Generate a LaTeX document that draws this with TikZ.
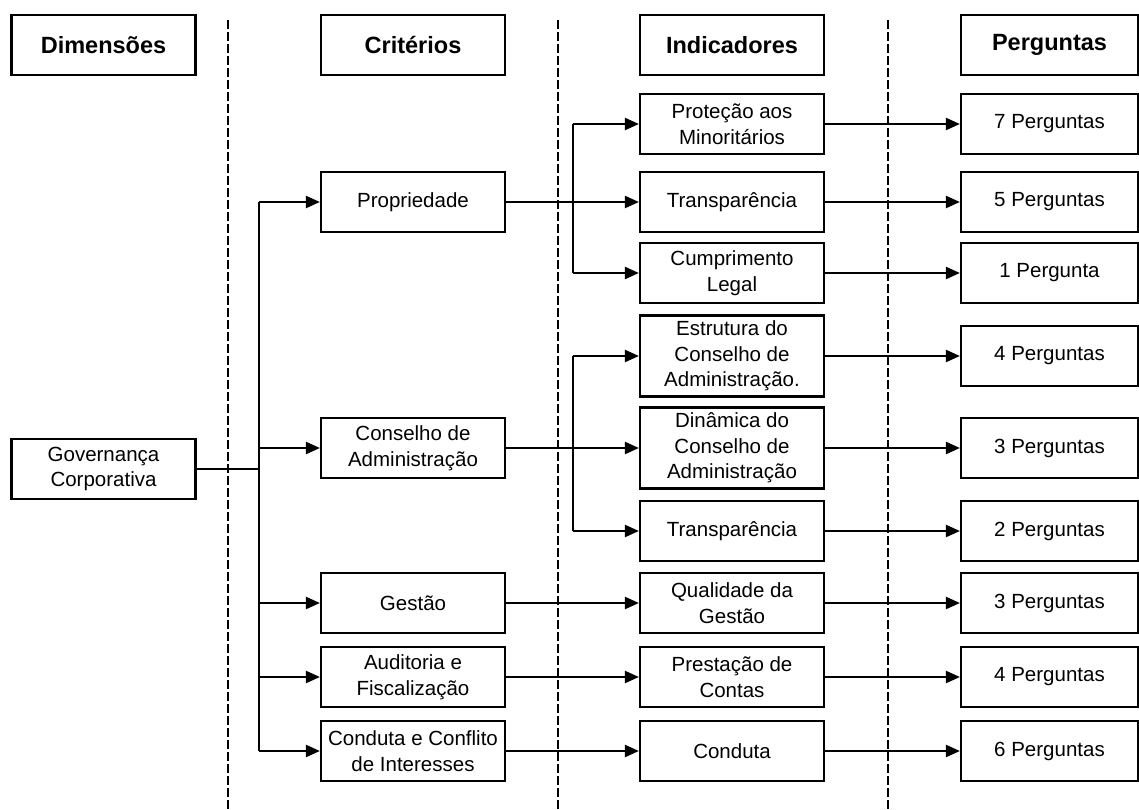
\documentclass[tikz,border=0pt]{standalone}
\usepackage{fontspec}
\setmainfont{Liberation Sans}
\usetikzlibrary{arrows.meta,calc}

\tikzset{
  caixa/.style={draw,line width=2.2pt,align=center,inner sep=0pt,
    minimum width=184pt,minimum height=60pt,font=\fontsize{20.5}{25.5}\selectfont},
  titulo/.style={caixa,font=\fontsize{23.5}{28}\selectfont\bfseries},
  alta/.style={minimum height=81pt},
  perg/.style={caixa,minimum width=177pt},
  liga/.style={line width=2.2pt},
  seta/.style={liga,-{Triangle[length=14pt,width=12pt]}},
  divisa/.style={line width=2.2pt,dash pattern=on 9pt off 3pt},
}

\begin{document}
\begin{tikzpicture}[x=1pt,y=-1pt]
\useasboundingbox (0,0) rectangle (1139,810);

% divisorias
\foreach \x in {228,558,888}
  \draw[divisa] (\x,20) -- (\x,810);

% cabecalhos
\node[titulo] (hDim) at (103.5,45) {Dimensões};
\node[titulo] (hCrit) at (413,45) {Critérios};
\node[titulo] (hInd) at (732,45) {Indicadores};
\node[titulo,minimum width=177pt] (hPerg) at (1049.5,45) {Perguntas};

% dimensao
\node[caixa] (gov) at (103.5,469) {Governança\\Corporativa};

% criterios
\node[caixa] (prop) at (413,202) {Propriedade};
\node[caixa] (cons) at (413,448) {Conselho de\\Administração};
\node[caixa] (gest) at (413,603) {Gestão};
\node[caixa] (audit) at (413,677) {Auditoria e\\Fiscalização};
\node[caixa] (cond) at (413,751) {Conduta e Conflito\\de Interesses};

% indicadores
\node[caixa] (prot) at (732,124) {Proteção aos\\Minoritários};
\node[caixa] (transA) at (732,202) {Transparência};
\node[caixa] (cumpr) at (732,273) {Cumprimento\\Legal};
\node[caixa,alta] (estr) at (732,356) {Estrutura do\\Conselho de\\Administração.};
\node[caixa,alta] (dinam) at (732,448) {Dinâmica do\\Conselho de\\Administração};
\node[caixa] (transB) at (732,531) {Transparência};
\node[caixa] (qual) at (732,603) {Qualidade da\\Gestão};
\node[caixa] (prest) at (732,677) {Prestação de\\Contas};
\node[caixa] (condInd) at (732,751) {Conduta};

% perguntas
\node[perg] (p1) at (1049.5,124) {7 Perguntas};
\node[perg] (p2) at (1049.5,202) {5 Perguntas};
\node[perg] (p3) at (1049.5,273) {1 Pergunta};
\node[perg] (p4) at (1049.5,356) {4 Perguntas};
\node[perg] (p5) at (1049.5,448) {3 Perguntas};
\node[perg] (p6) at (1049.5,531) {2 Perguntas};
\node[perg] (p7) at (1049.5,603) {3 Perguntas};
\node[perg] (p8) at (1049.5,677) {4 Perguntas};
\node[perg] (p9) at (1049.5,751) {6 Perguntas};

% tronco principal
\coordinate (tronco) at (259,0);
\draw[liga] (gov) -- (gov -| tronco);
\draw[liga] (tronco |- prop) -- (tronco |- cond);
\foreach \n in {prop,cons,gest,audit,cond}
  \draw[seta] (tronco |- \n) -- (\n);

% ramos dos indicadores
\coordinate (ramo) at (573,0);
\draw[liga] (ramo |- prot) -- (ramo |- cumpr);
\draw[liga] (ramo |- estr) -- (ramo |- transB);
\foreach \n in {prot,cumpr,estr,transB}
  \draw[seta] (ramo |- \n) -- (\n);
\foreach \a/\b in {prop/transA,cons/dinam,gest/qual,audit/prest,cond/condInd}
  \draw[seta] (\a) -- (\b);

% indicadores -> perguntas
\foreach \a/\b in {prot/p1,transA/p2,cumpr/p3,estr/p4,dinam/p5,transB/p6,qual/p7,prest/p8,condInd/p9}
  \draw[seta] (\a) -- (\b);

\end{tikzpicture}
\end{document}
